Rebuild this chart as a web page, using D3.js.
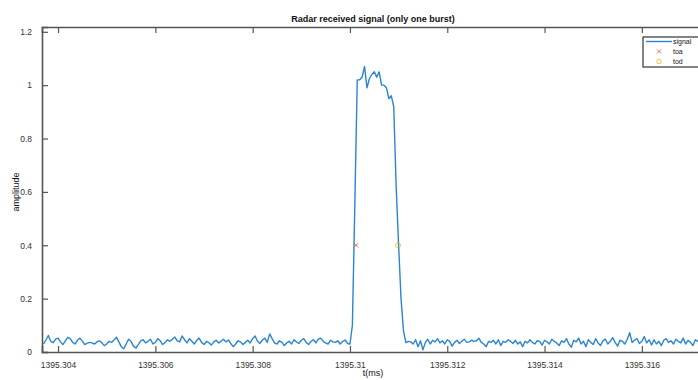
<!DOCTYPE html>
<html>
<head>
<meta charset="utf-8">
<script src="https://cdn.jsdelivr.net/npm/d3@7"></script>
<style>
    body { margin: 0; background: #fff; }
    text { font-family: "Liberation Sans", Arial, sans-serif; fill: #262626; }
</style>
</head>
<body>
<script>
// sampling of the received burst (ms)
const tStart = 1395.3037;
const tStep = 0.00005;

const amplitude = [
    0.030,0.045,0.062,0.040,0.035,0.048,0.052,0.038,0.028,0.042,
    0.055,0.050,0.036,0.030,0.044,0.052,0.040,0.028,0.033,0.036,
    0.034,0.030,0.038,0.042,0.035,0.024,0.030,0.040,0.036,0.045,
    0.055,0.038,0.020,0.012,0.030,0.048,0.040,0.022,0.015,0.028,
    0.042,0.046,0.034,0.040,0.048,0.030,0.036,0.050,0.042,0.028,
    0.035,0.046,0.040,0.048,0.056,0.042,0.038,0.060,0.046,0.034,
    0.050,0.040,0.030,0.044,0.052,0.036,0.028,0.040,0.035,0.026,
    0.038,0.044,0.034,0.040,0.048,0.038,0.045,0.032,0.020,0.030,
    0.042,0.038,0.028,0.036,0.044,0.034,0.050,0.060,0.040,0.032,
    0.045,0.052,0.036,0.068,0.050,0.034,0.030,0.042,0.036,0.024,
    0.034,0.040,0.030,0.046,0.038,0.032,0.044,0.050,0.036,0.028,
    0.040,0.046,0.034,0.048,0.052,0.040,0.034,0.030,0.044,0.038,
    0.036,0.042,0.030,0.040,0.045,0.032,
    // burst
    0.030,0.100,0.550,1.020,1.020,1.030,1.070,0.990,1.025,1.040,
    1.050,1.030,1.050,1.000,1.000,0.990,0.950,0.960,0.920,0.620,
    0.400,0.200,0.080,0.035,
    // after
    0.040,0.038,0.030,0.046,0.020,0.042,0.008,0.036,0.048,0.030,
    0.044,0.038,0.050,0.034,0.042,0.030,0.046,0.040,0.022,0.036,
    0.044,0.032,0.040,0.048,0.036,0.038,0.044,0.040,0.042,0.052,
    0.036,0.030,0.020,0.040,0.036,0.044,0.030,0.046,0.024,0.040,
    0.036,0.046,0.040,0.032,0.044,0.030,0.038,0.020,0.040,0.034,
    0.046,0.036,0.030,0.042,0.040,0.026,0.044,0.038,0.030,0.048,
    0.040,0.034,0.024,0.042,0.036,0.050,0.030,0.018,0.044,0.038,
    0.052,0.030,0.040,0.020,0.046,0.036,0.028,0.050,0.034,0.024,
    0.042,0.048,0.030,0.040,0.054,0.036,0.022,0.044,0.040,0.030,
    0.048,0.072,0.036,0.044,0.050,0.032,0.040,0.058,0.034,0.046,
    0.026,0.046,0.030,0.040,0.024,0.044,0.050,0.036,0.042,0.030,
    0.048,0.040,0.034,0.052,0.030,0.044,0.036,0.024,0.046,0.040,
    0.032,0.050,0.038,0.028,0.044,0.036,0.040,0.030,0.046,0.034,
    0.040,0.028,0.036
];

const toaPoint = [1395.310125, 0.4];
const todPoint = [1395.310989, 0.4];

const xTicks = [1395.304, 1395.306, 1395.308, 1395.310, 1395.312, 1395.314, 1395.316];
const xTickLabels = ["1395.304", "1395.306", "1395.308", "1395.31", "1395.312", "1395.314", "1395.316"];
const yTicks = [0, 0.2, 0.4, 0.6, 0.8, 1, 1.2];
const yTickLabels = ["0", "0.2", "0.4", "0.6", "0.8", "1", "1.2"];

const legendItems = ["signal", "toa", "tod"];

const W = 698, H = 380;
const margin = {left: 42, top: 27, right: -32, bottom: 28};
const width = W - margin.left - margin.right;
const height = H - margin.top - margin.bottom;

const data = amplitude.map((a, i) => ({t: tStart + i * tStep, a: a}));

// Scales
const x = d3.scaleLinear()
            .domain([1395.30367, 1395.30367 + width / 48650])
            .range([0, width]);
const y = d3.scaleLinear()
            .domain([0, 1.218])
            .range([height, 0]);

const svg = d3.select("body").append("svg")
            .attr('width', W)
            .attr('height', H);

const g = svg.append("g")
            .attr('transform', `translate(${margin.left}, ${margin.top})`);

const axisColor = "#555";

// signal
const line = d3.line().x(d => x(d.t)).y(d => y(d.a));
g.append("path")
    .datum(data)
    .attr('d', line)
    .attr('fill', 'none')
    .attr('stroke', '#2a85d2')
    .attr('stroke-width', 1.4)
    .attr('stroke-linejoin', 'round');

// toa / tod markers
g.append("path")
    .attr('d', d3.symbol(d3.symbolTimes, 14)())
    .attr('transform', `translate(${x(toaPoint[0])}, ${y(toaPoint[1])})`)
    .attr('stroke', '#d95319')
    .attr('stroke-width', 0.8)
    .attr('fill', 'none');
g.append("circle")
    .attr('cx', x(todPoint[0]))
    .attr('cy', y(todPoint[1]))
    .attr('r', 2.5)
    .attr('stroke', '#edb120')
    .attr('stroke-width', 0.8)
    .attr('fill', 'none');

// Axes (ticks pointing inward)
const axBottom = g.append("g")
    .attr('transform', `translate(0, ${height})`)
    .call(d3.axisBottom(x).tickValues(xTicks).tickSize(-6).tickPadding(10)
        .tickFormat((d, i) => xTickLabels[i]));
const axTop = g.append("g")
    .call(d3.axisTop(x).tickValues(xTicks).tickSize(-6).tickFormat(""));
const axLeft = g.append("g")
    .call(d3.axisLeft(y).tickValues(yTicks).tickSize(-6).tickPadding(10)
        .tickFormat((d, i) => yTickLabels[i]));

[axBottom, axTop, axLeft].forEach(a => {
    a.select(".domain").attr('stroke', axisColor).attr('stroke-width', 1.6);
    a.selectAll(".tick line").attr('stroke', axisColor).attr('stroke-width', 1.2);
    a.selectAll(".tick text")
        .style('fill', '#333')
        .attr('font-size', '8.5px')
        .attr('font-family', '"Liberation Sans", Arial, sans-serif');
});

// Labels
svg.append("text")
    .attr('x', 373)
    .attr('y', 22)
    .attr('text-anchor', 'middle')
    .attr('font-size', '9px')
    .attr('font-weight', 'bold')
    .style('fill', '#111')
    .text("Radar received signal (only one burst)");

svg.append("text")
    .attr('x', 373)
    .attr('y', 376)
    .attr('text-anchor', 'middle')
    .attr('font-size', '9px')
    .style('fill', '#111')
    .text("t(ms)");

svg.append("text")
    .attr('transform', `translate(19, ${margin.top + y(0.6)}) rotate(-90)`)
    .attr('text-anchor', 'middle')
    .attr('font-size', '9px')
    .style('fill', '#111')
    .text("amplitude");

// Legend
const lg = svg.append("g").attr('transform', 'translate(643, 37)');
lg.append("rect")
    .attr('width', 70).attr('height', 30)
    .attr('fill', '#fff')
    .attr('stroke', '#333').attr('stroke-width', 1.2);
lg.append("line")
    .attr('x1', 3).attr('x2', 29).attr('y1', 4.5).attr('y2', 4.5)
    .attr('stroke', '#2a85d2').attr('stroke-width', 1.4);
lg.append("path")
    .attr('d', d3.symbol(d3.symbolTimes, 12)())
    .attr('transform', 'translate(16, 14.5)')
    .attr('stroke', '#d95319').attr('stroke-width', 0.8).attr('fill', 'none');
lg.append("circle")
    .attr('cx', 16).attr('cy', 24.5).attr('r', 2.3)
    .attr('stroke', '#edb120').attr('stroke-width', 0.8).attr('fill', 'none');
lg.selectAll("text.item").data(legendItems).enter().append("text")
    .attr('class', 'item')
    .attr('x', 30)
    .attr('y', (d, i) => 7 + i * 10)
    .attr('font-size', '7px')
    .style('fill', '#111')
    .text(d => d);
</script>
</body>
</html>
